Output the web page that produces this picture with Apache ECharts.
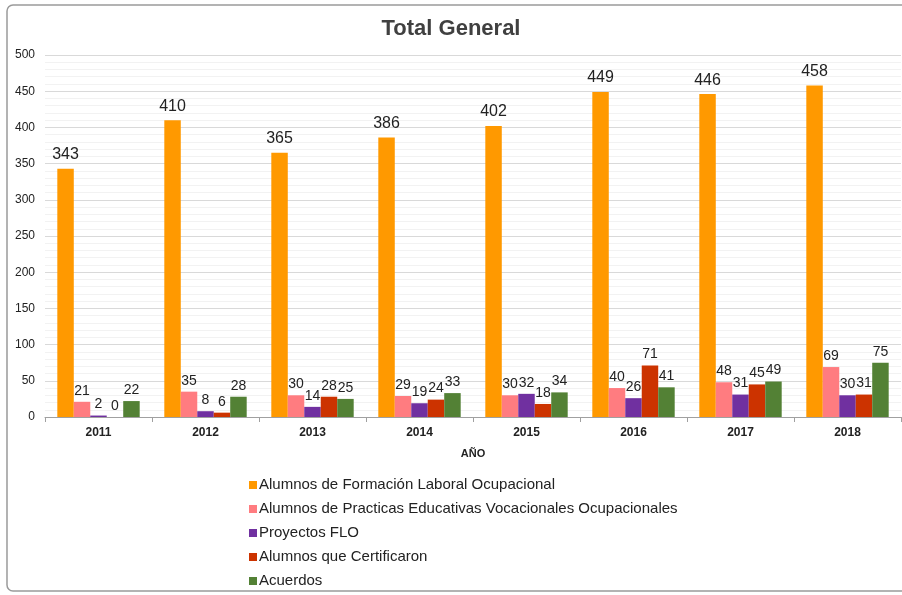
<!DOCTYPE html>
<html><head><meta charset="utf-8">
<script src="https://cdn.jsdelivr.net/npm/echarts@6/dist/echarts.min.js"></script>
<style>html,body{margin:0;padding:0;background:#fff}#c{width:902px;height:595px}</style>
</head><body><div id="c"></div>
<script>
const years = ['2011','2012','2013','2014','2015','2016','2017','2018'];
const seriesNames = ['Alumnos de Formación Laboral Ocupacional','Alumnos de Practicas Educativas Vocacionales Ocupacionales','Proyectos FLO','Alumnos que Certificaron','Acuerdos'];
const formacion = [343,410,365,386,402,449,446,458];
const practicas = [21,35,30,29,30,40,48,69];
const proyectos = [2,8,14,19,32,26,31,30];
const certificaron = [0,6,28,24,18,71,45,31];
const acuerdos = [22,28,25,33,34,41,49,75];
const colors = ['#FF9900','#FF7C80','#7030A0','#CC3300','#538135'];
const values = [formacion, practicas, proyectos, certificaron, acuerdos];

const chart = echarts.init(document.getElementById('c'));
chart.setOption({
  animation:false,
  backgroundColor:'#fff',
  title:{text:'Total General',left:'center',top:13,textStyle:{fontFamily:'Liberation Sans',fontSize:22,fontWeight:'bold',color:'#404040'}},
  graphic:[{type:'rect',shape:{x:7,y:5,width:900,height:586,r:6},style:{fill:'none',stroke:'#9a9a9a',lineWidth:1.5}}],
  legend:{orient:'vertical',left:249,top:476,height:140,padding:0,itemGap:6,itemWidth:8,itemHeight:8,icon:'rect',
    textStyle:{fontFamily:'Liberation Sans',fontSize:15,lineHeight:18,color:'#222',padding:[0,0,0,-3]},data:seriesNames},
  grid:{left:45,right:1,top:55,bottom:178},
  xAxis:{type:'category',data:years,name:'AÑO',nameLocation:'middle',nameGap:31,
    nameTextStyle:{fontFamily:'Liberation Sans',fontSize:11,fontWeight:'bold',color:'#222'},
    axisLine:{lineStyle:{color:'#a0a0a0'}},axisTick:{show:true,length:5,lineStyle:{color:'#a0a0a0'}},
    axisLabel:{fontFamily:'Liberation Sans',fontSize:12,fontWeight:'bold',color:'#222',margin:10}},
  yAxis:{type:'value',min:0,max:500,interval:50,
    axisLine:{show:false},axisTick:{show:false},
    axisLabel:{fontFamily:'Liberation Sans',fontSize:12,color:'#222',margin:10},
    splitLine:{lineStyle:{color:'#d9d9d9'}},
    minorTick:{show:false,splitNumber:5},
    minorSplitLine:{show:true,lineStyle:{color:'#f2f2f2'}}},
  series: seriesNames.map((n,i)=>({
    name:n,type:'bar',data:values[i],barGap:'0%',barCategoryGap:'23%',
    itemStyle:{color:colors[i]},
    label:{show:true,position:'top',distance:i===0?6:4,fontFamily:'Liberation Sans',fontSize:i===0?16:14,color:'#222'}
  }))
});
</script></body></html>
